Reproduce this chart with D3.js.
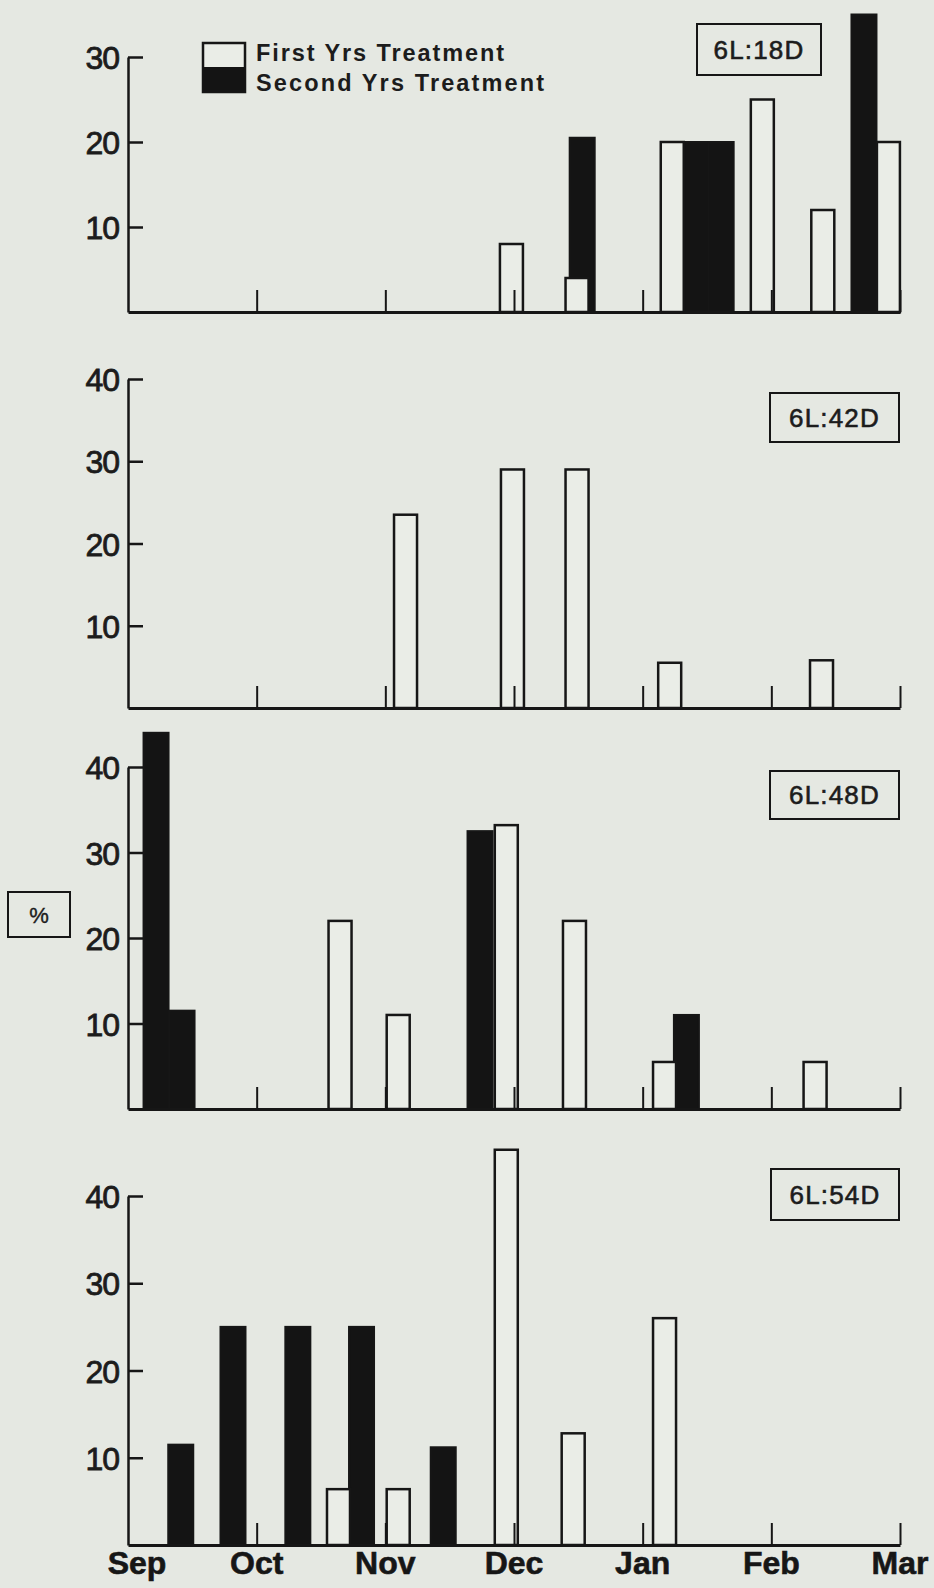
<!DOCTYPE html>
<html>
<head>
<meta charset="utf-8">
<script src="https://cdn.jsdelivr.net/npm/d3@7"></script>
<style>
  html, body { margin: 0; padding: 0; background: #e5e8e2; }
  svg { display: block; font-family: 'Liberation Sans', Arial, sans-serif; }
</style>
</head>
<body>
<svg id="chart"></svg>
<script>
// months on the x axis (position 0 = start of Sep)
const months = ['Sep', 'Oct', 'Nov', 'Dec', 'Jan', 'Feb', 'Mar'];
const seriesNames = ['First Yrs Treatment', 'Second Yrs Treatment'];
const panelLabels = ['6L:18D', '6L:42D', '6L:48D', '6L:54D'];
const ticks18 = [10, 20, 30];
const ticksOther = [10, 20, 30, 40];

// [month position, %]
const first18 = [[2.98, 8], [3.49, 4], [4.23, 20], [4.93, 25], [5.40, 12], [5.91, 20]];
const second18 = [[3.53, 20.5], [4.415, 20], [4.61, 20], [5.72, 35]];
const first42 = [[2.157, 23.5], [2.988, 29], [3.49, 29], [4.21, 5.5], [5.39, 5.8]];
const second42 = [];
const first48 = [[1.648, 22], [2.10, 11], [2.94, 33.2], [3.47, 22], [4.17, 5.5], [5.34, 5.5]];
const second48 = [[0.218, 44], [0.42, 11.5], [2.736, 32.5], [4.34, 11]];
const first54 = [[1.636, 6.4], [2.10, 6.4], [2.94, 45.3], [3.46, 12.8], [4.17, 26]];
const second54 = [[0.41, 11.5], [0.816, 25], [1.32, 25], [1.815, 25], [2.45, 11.2]];

const W = 934, H = 1588;
const INK = '#161616';
const PAPER = '#eaede7';
const WHITE_W = 23, BLACK_W = 25;

const svg = d3.select('#chart').attr('width', W).attr('height', H);
svg.append('rect').attr('width', W).attr('height', H).attr('fill', '#e5e8e2');

const x = d3.scaleLinear().domain([0, 6]).range([128, 900]);

const panels = [
  { label: panelLabels[0], first: first18, second: second18, ticks: ticks18, y0: 312, yTop: 57, box: [697, 24, 124, 51] },
  { label: panelLabels[1], first: first42, second: second42, ticks: ticksOther, y0: 708, yTop: 379, box: [770, 393, 129, 49] },
  { label: panelLabels[2], first: first48, second: second48, ticks: ticksOther, y0: 1109, yTop: 767, box: [770, 771, 129, 48] },
  { label: panelLabels[3], first: first54, second: second54, ticks: ticksOther, y0: 1545, yTop: 1196, box: [771, 1169, 128, 51] }
];

panels.forEach(function (p) {
  const y = d3.scaleLinear().domain([0, d3.max(p.ticks)]).range([p.y0, p.yTop]);
  const g = svg.append('g');

  /* second year bars go behind first year ones */
  g.selectAll('.bar-second')
    .data(p.second)
    .enter()
    .append('rect')
    .attr('class', 'bar-second')
    .attr('x', (d) => x(d[0]) - BLACK_W / 2)
    .attr('width', BLACK_W)
    .attr('y', (d) => y(d[1]))
    .attr('height', (d) => y(0) - y(d[1]))
    .attr('fill', '#141414')
    .attr('stroke', INK)
    .attr('stroke-width', 2);

  g.selectAll('.bar-first')
    .data(p.first)
    .enter()
    .append('rect')
    .attr('class', 'bar-first')
    .attr('x', (d) => x(d[0]) - WHITE_W / 2)
    .attr('width', WHITE_W)
    .attr('y', (d) => y(d[1]))
    .attr('height', (d) => y(0) - y(d[1]))
    .attr('fill', PAPER)
    .attr('stroke', INK)
    .attr('stroke-width', 2.5);

  /* bottom axis: month ticks point up */
  const xAxis = d3.axisBottom(x)
    .tickValues([1, 2, 3, 4, 5, 6])
    .tickSize(-22)
    .tickSizeOuter(0)
    .tickFormat('');
  const xg = g.append('g')
    .attr('transform', `translate(0, ${p.y0})`)
    .style('color', INK)
    .call(xAxis);
  xg.select('.domain').attr('stroke-width', 3);
  xg.selectAll('.tick line').attr('stroke-width', 2);

  /* left axis: ticks point into the plot */
  const yAxis = d3.axisLeft(y)
    .tickValues(p.ticks)
    .tickSize(-15)
    .tickSizeOuter(0)
    .tickPadding(9);
  const yg = g.append('g')
    .attr('transform', `translate(${x(0)}, 0)`)
    .style('color', INK)
    .call(yAxis);
  yg.select('.domain').attr('stroke-width', 2.5);
  yg.selectAll('.tick line').attr('stroke-width', 2.5);
  yg.selectAll('.tick text')
    .attr('font-size', 32)
    .attr('font-family', "'Liberation Sans', Arial, sans-serif")
    .attr('letter-spacing', -1)
    .attr('fill', '#1c1c1c')
    .attr('stroke', '#1c1c1c')
    .attr('stroke-width', 0.8)
    .attr('dy', '0.36em');

  /* photoperiod label */
  const [bx, by, bw, bh] = p.box;
  g.append('rect')
    .attr('x', bx).attr('y', by).attr('width', bw).attr('height', bh)
    .attr('fill', 'none').attr('stroke', INK).attr('stroke-width', 2);
  g.append('text')
    .attr('x', bx + bw / 2)
    .attr('y', by + bh / 2)
    .attr('dy', '0.36em')
    .attr('text-anchor', 'middle')
    .attr('font-size', 26)
    .attr('letter-spacing', 1.2)
    .attr('fill', '#1c1c1c')
    .attr('stroke', '#1c1c1c')
    .attr('stroke-width', 0.6)
    .text(p.label);
});

/* legend */
const legend = svg.append('g');
legend.append('rect')
  .attr('x', 203).attr('y', 43).attr('width', 42).attr('height', 49)
  .attr('fill', PAPER).attr('stroke', INK).attr('stroke-width', 2.5);
legend.append('rect')
  .attr('x', 203).attr('y', 67).attr('width', 42).attr('height', 25)
  .attr('fill', '#141414');
legend.selectAll('.legend-text')
  .data(seriesNames)
  .enter()
  .append('text')
  .attr('class', 'legend-text')
  .attr('x', 256)
  .attr('y', (d, i) => 61 + i * 30)
  .attr('font-size', 23.5)
  .attr('font-weight', 'bold')
  .attr('fill', '#1c1c1c')
  .attr('textLength', (d, i) => (i === 0 ? 248 : 288))
  .attr('lengthAdjust', 'spacing')
  .text((d) => d);

/* % label */
svg.append('rect')
  .attr('x', 8).attr('y', 892).attr('width', 62).attr('height', 45)
  .attr('fill', 'none').attr('stroke', INK).attr('stroke-width', 2);
svg.append('text')
  .attr('x', 39).attr('y', 915).attr('dy', '0.36em')
  .attr('text-anchor', 'middle')
  .attr('font-size', 22)
  .attr('fill', '#1c1c1c')
  .attr('stroke', '#1c1c1c')
  .attr('stroke-width', 0.4)
  .text('%');

/* month labels under the last panel */
svg.append('g')
  .selectAll('text')
  .data(months)
  .enter()
  .append('text')
  .attr('x', (d, i) => x(i) + (i === 0 ? 9 : 0))
  .attr('y', 1574)
  .attr('text-anchor', 'middle')
  .attr('font-size', 32)
  .attr('font-weight', 'bold')
  .attr('fill', '#161616')
  .attr('stroke', '#161616')
  .attr('stroke-width', 0.6)
  .text((d) => d);
</script>
</body>
</html>
